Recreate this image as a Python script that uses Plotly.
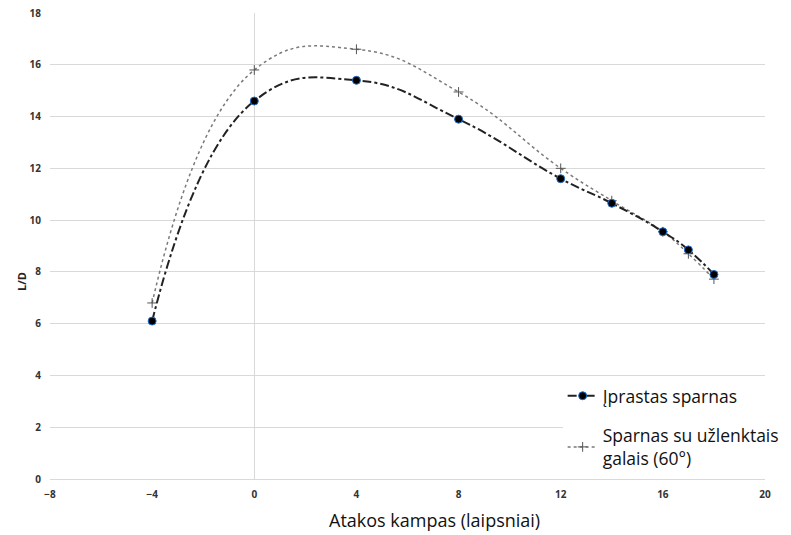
import plotly.graph_objects as go

x_vals = [-4, 0, 4, 8, 12, 14, 16, 17, 18]
y_iprastas = [6.1, 14.6, 15.4, 13.9, 11.6, 10.65, 9.55, 8.85, 7.9]
y_uzlenktais = [6.8, 15.8, 16.6, 14.95, 12.0, 10.75, 9.55, 8.7, 7.72]

name1 = "Įprastas sparnas"
name2 = "Sparnas su užlenktais<br>galais (60°)"
x_title = "Atakos kampas (laipsniai)"
y_title = "L/D"

fig = go.Figure()
fig.add_trace(go.Scatter(
    x=x_vals, y=y_uzlenktais, name=name2, mode="lines+markers", legendgroup="b", legendrank=2,
    line=dict(color="#7a7a7a", width=1.5, dash="dot", shape="spline", smoothing=1.3),
    marker=dict(symbol="cross-thin", size=7, line=dict(color="#555555", width=1)),
))
fig.add_trace(go.Scatter(
    x=x_vals, y=y_iprastas, name=name1, mode="lines+markers", legendgroup="a", legendrank=1,
    line=dict(color="#222222", width=2, dash="dashdot", shape="spline", smoothing=1.3),
    marker=dict(symbol="circle", size=8, color="#000000", line=dict(color="#1f6fd0", width=1)),
))

fig.update_layout(
    width=791, height=535,
    margin=dict(l=50, r=26, t=13, b=56, autoexpand=False),
    paper_bgcolor="white", plot_bgcolor="white",
    font=dict(family="Open Sans", color="#222222"),
    showlegend=True,
    legend=dict(
        x=0.717, y=0.217, xanchor="left", yanchor="top",
        bgcolor="white", font=dict(size=17.5, color="#111111"),
        traceorder="grouped", itemwidth=30, tracegroupgap=14,
    ),
    annotations=[
        dict(text=x_title, xref="paper", yref="paper", x=0.538, y=-0.088,
             xanchor="center", yanchor="middle", showarrow=False,
             font=dict(size=18, color="#111111")),
        dict(text=y_title, xref="paper", yref="paper", x=-0.039, y=0.423,
             xanchor="center", yanchor="middle", showarrow=False, textangle=-90,
             font=dict(size=11, color="#222222", weight="bold")),
    ],
)
fig.update_xaxes(
    range=[-8, 20], dtick=4, tick0=-8, showgrid=False, automargin=False,
    zeroline=True, zerolinecolor="#d9d9d9", zerolinewidth=1,
    showline=False, ticks="", ticklabelstandoff=8,
    tickfont=dict(size=10, color="#333333", weight="bold"),
)
fig.update_yaxes(
    range=[0, 18], dtick=2, showgrid=True, gridcolor="#d9d9d9", gridwidth=1.3, automargin=False,
    zeroline=True, zerolinecolor="#d9d9d9", zerolinewidth=1.3, showline=False, ticks="",
    ticklabelstandoff=8,
    tickfont=dict(size=10, color="#333333", weight="bold"),
)

fig.write_html("out.html")
